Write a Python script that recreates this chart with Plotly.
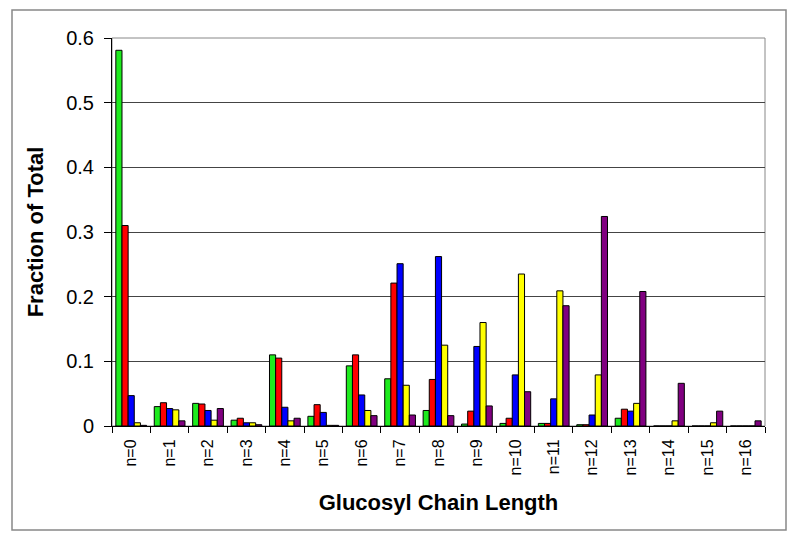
"""Glucosyl chain length distribution - grouped bar chart."""

import plotly.graph_objects as go

categories = [f"n={i}" for i in range(17)]

green_vals = [0.581, 0.030, 0.035, 0.009, 0.110, 0.015, 0.093, 0.073, 0.024,
              0.003, 0.004, 0.004, 0.002, 0.012, 0.0, 0.0, 0.0]
red_vals = [0.310, 0.036, 0.034, 0.012, 0.105, 0.033, 0.110, 0.221, 0.072,
            0.023, 0.012, 0.004, 0.002, 0.026, 0.0, 0.0, 0.0]
blue_vals = [0.047, 0.027, 0.024, 0.005, 0.029, 0.021, 0.048, 0.251, 0.262,
             0.123, 0.079, 0.042, 0.017, 0.023, 0.0, 0.0, 0.0]
yellow_vals = [0.005, 0.025, 0.009, 0.005, 0.008, 0.001, 0.024, 0.063, 0.125,
               0.160, 0.235, 0.209, 0.079, 0.035, 0.008, 0.005, 0.0]
purple_vals = [0.001, 0.008, 0.027, 0.002, 0.012, 0.001, 0.016, 0.017, 0.016,
               0.031, 0.053, 0.186, 0.324, 0.208, 0.066, 0.023, 0.008]

series = [
    (green_vals, "#1EEB1E"),
    (red_vals, "#FF0000"),
    (blue_vals, "#0000FF"),
    (yellow_vals, "#FFFF00"),
    (purple_vals, "#800080"),
]

# the page body adds an 8px margin, so the figure is shrunk by that much
OFF = 8
W, H = 800 - OFF, 542 - OFF
ML, MR, MT, MB = 112 - OFF, 35, 38 - OFF, 116
pw, ph = W - ML - MR, H - MT - MB

fig = go.Figure()
for vals, color in series:
    fig.add_trace(
        go.Bar(
            x=categories,
            y=vals,
            marker=dict(color=color, line=dict(color="#000000", width=1)),
            showlegend=False,
        )
    )

# plot-area frame (grey) and outer chart frame
fig.add_shape(type="rect", xref="x domain", yref="y domain", x0=0, x1=1, y0=0, y1=1,
              line=dict(color="#888888", width=1), layer="below")
fig.add_shape(type="rect", xref="paper", yref="paper",
              x0=(12 - OFF - ML) / pw, x1=(786 - OFF - ML) / pw,
              y0=(H - MB - (530 - OFF)) / ph, y1=(H - MB - (10 - OFF)) / ph,
              line=dict(color="#888888", width=1.5))

font = "Liberation Sans, Arial, sans-serif"
fig.update_layout(
    width=W,
    height=H,
    barmode="group",
    bargap=0.2,
    bargroupgap=0,
    plot_bgcolor="white",
    paper_bgcolor="white",
    margin=dict(l=ML, r=MR, t=MT, b=MB),
    font=dict(family=font, color="#000000"),
    xaxis=dict(
        title=dict(text="<b>Glucosyl Chain Length</b>", font=dict(size=22), standoff=20),
        tickangle=-90,
        tickfont=dict(size=16),
        ticks="outside",
        tickson="boundaries",
        ticklen=6,
        ticklabelstandoff=6,
        tickcolor="#000000",
        showline=True,
        linecolor="#000000",
        linewidth=1,
        showgrid=False,
    ),
    yaxis=dict(
        title=dict(text="<b>Fraction of Total</b>", font=dict(size=22), standoff=16),
        range=[0, 0.6],
        tickvals=[0, 0.1, 0.2, 0.3, 0.4, 0.5, 0.6],
        ticktext=["0", "0.1", "0.2", "0.3", "0.4", "0.5", "0.6"],
        tickfont=dict(size=20),
        ticks="outside",
        ticklen=7,
        ticklabelstandoff=6,
        tickcolor="#000000",
        showline=True,
        linecolor="#000000",
        linewidth=1,
        showgrid=True,
        gridcolor="#444444",
        gridwidth=1,
        zeroline=False,
    ),
)

fig.write_html("out.html")
